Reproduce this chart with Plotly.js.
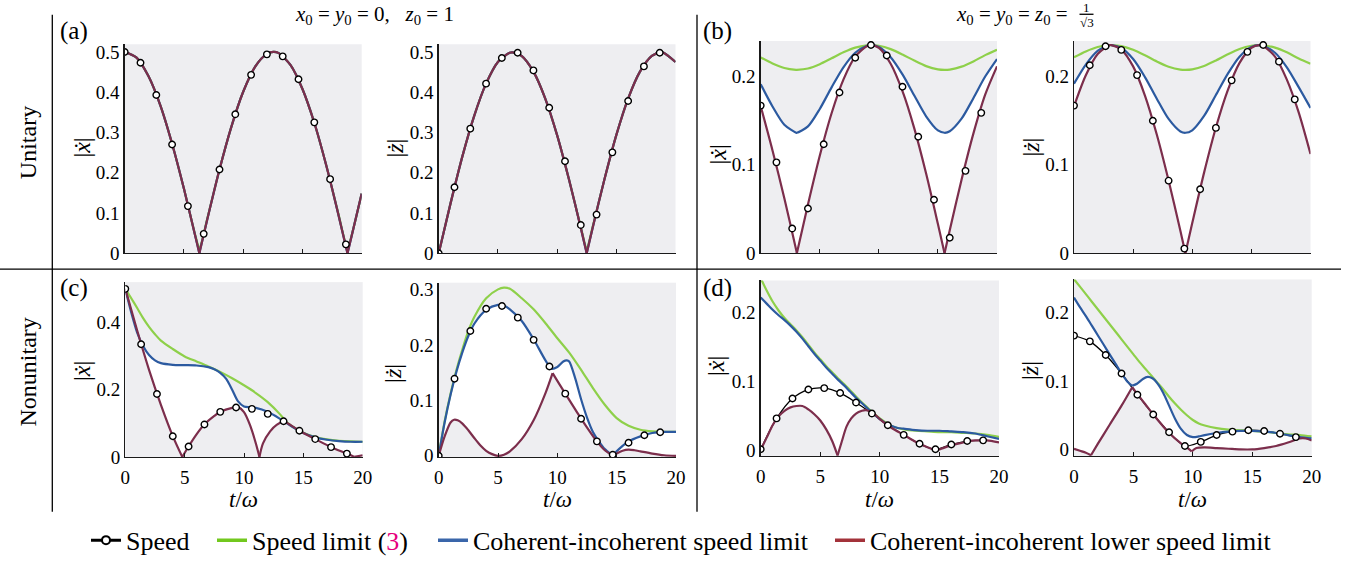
<!DOCTYPE html>
<html><head><meta charset="utf-8">
<script src="https://cdn.plot.ly/plotly-3.0.1.min.js"></script>
<style>html,body{margin:0;padding:0;background:#fff}#chart{width:1350px;height:564px}</style>
</head><body><div id="chart"></div>
<script>
// ---------------- DATA ----------------
const tMarks = [0,1.333,2.667,4,5.333,6.667,8,9.333,10.667,12,13.333,14.667,16,17.333,18.667];

// (a) unitary, x0=y0=0, z0=1 : |x'|
const aL_t     = [0,1,2,3,4,5,6,6.3,7,8,9,10,11,12,12.55,13,14,15,16,17,18,18.8,19,20];
const aL_lim   = [0.5,0.486,0.440,0.368,0.272,0.160,0.037,0,0.088,0.208,0.314,0.401,0.463,0.495,0.5,0.497,0.467,0.408,0.324,0.219,0.100,0,0.024,0.148];
const aL_green = [0.5,0.486,0.440,0.368,0.272,0.160,0.040,0.014,0.090,0.208,0.314,0.401,0.463,0.495,0.5,0.497,0.467,0.408,0.324,0.219,0.102,0.014,0.028,0.148];
const aL_cusps = [6.3,18.8];
const aL_speed = [0.500,0.473,0.393,0.270,0.117,0.048,0.208,0.345,0.443,0.494,0.489,0.432,0.325,0.184,0.022];
// (a) |z'|
const aR_t     = [0,1,2,3,4,5,6,6.25,7,8,9,10,11,12,12.5,13,14,15,16,17,18,18.75,19,20];
const aR_lim   = [0,0.124,0.241,0.342,0.422,0.476,0.499,0.5,0.491,0.452,0.385,0.294,0.184,0.063,0,0.063,0.184,0.294,0.385,0.452,0.491,0.5,0.499,0.476];
const aR_green = [0,0.124,0.241,0.342,0.422,0.476,0.499,0.5,0.491,0.452,0.385,0.294,0.184,0.066,0.014,0.066,0.184,0.294,0.385,0.452,0.491,0.5,0.499,0.476];
const aR_cusps = [12.5];
const aR_speed = [0,0.164,0.310,0.422,0.486,0.499,0.455,0.362,0.229,0.070,0.096,0.251,0.379,0.465,0.499];

// (b) unitary, x0=y0=z0=1/sqrt3 : |x'|
const bL_t     = [0,1,2,3,3.06,4,5,6,7,8,9,9.31,10,11,12,13,14,15,15.56,16,17,18,19,20];
const bL_red   = [0.166,0.116,0.062,0.004,0,0.055,0.110,0.158,0.196,0.222,0.234,0.235,0.232,0.214,0.183,0.141,0.090,0.033,0,0.026,0.083,0.135,0.179,0.211];
const bL_blue  = [0.1908,0.1657,0.1451,0.1361,0.136,0.1432,0.1629,0.1873,0.2099,0.2264,0.2343,0.235,0.2330,0.2213,0.2019,0.1781,0.1546,0.1386,0.136,0.1377,0.1519,0.1750,0.1995,0.2193];
const bL_green = [0.2211,0.2142,0.2091,0.2070,0.207,0.2086,0.2134,0.2201,0.2268,0.2321,0.2348,0.235,0.2343,0.2305,0.2244,0.2175,0.2113,0.2076,0.207,0.2074,0.2107,0.2166,0.2237,0.2298];
const bL_cusps = [3.06,15.56];
const bL_speed = [0.1667,0.1026,0.0278,0.0504,0.123,0.1815,0.2207,0.2352,0.2233,0.188,0.1315,0.0604,0.0174,0.093,0.1585];
// (b) |z'|
const bR_t     = [0,1,2,3,3.17,4,5,6,7,8,9,9.42,10,11,12,13,14,15,15.67,16,17,18,19,20];
const bR_red   = [0.166,0.201,0.225,0.235,0.235,0.230,0.211,0.178,0.134,0.082,0.025,0,0.034,0.091,0.142,0.184,0.215,0.232,0.235,0.234,0.222,0.196,0.159,0.112];
const bR_blue  = [0.1913,0.2130,0.2284,0.235,0.235,0.2317,0.2193,0.1989,0.1745,0.1516,0.1375,0.136,0.1388,0.1550,0.1786,0.2025,0.2219,0.2330,0.235,0.2343,0.2264,0.2099,0.1875,0.1640];
const bR_green = [0.2212,0.2278,0.2328,0.235,0.235,0.2339,0.2298,0.2235,0.2165,0.2106,0.2073,0.207,0.2076,0.2114,0.2176,0.2246,0.2307,0.2343,0.235,0.2348,0.2321,0.2268,0.2199,0.2140];
const bR_cusps = [9.42];
const bR_speed = [0.1667,0.2122,0.2337,0.2296,0.2011,0.1496,0.0819,0.0052,0.0722,0.1415,0.1952,0.2274,0.2352,0.2163,0.1737];

// (c) nonunitary, x0=y0=0, z0=1 : |x'|
const cL_red_t   = [0,1,2,3,4,4.8,5.33,6,6.67,7.5,8,9,9.5,10,10.5,11,11.3,11.6,12.2,12.75,13.33,14,14.67,16,17.33,18.67,19.3,20];
const cL_red     = [0.5,0.376,0.259,0.155,0.062,0,0.031,0.067,0.097,0.122,0.134,0.146,0.148,0.133,0.095,0.04,0,0.04,0.076,0.095,0.105,0.093,0.078,0.053,0.029,0.010,0,0.005];
const cL_red_cusps = [4.8,11.3,19.3];
const cL_blue_t  = [0,0.5,1,1.5,2,2.5,3,4,5,6,7,7.5,8,8.5,9,9.5,10,10.5,11,11.5,12,13,13.5,14,15,16,17,18,19,20];
const cL_blue    = [0.5,0.43,0.37,0.33,0.303,0.287,0.279,0.274,0.273,0.272,0.267,0.261,0.25,0.232,0.2,0.165,0.15,0.148,0.146,0.141,0.134,0.114,0.103,0.091,0.071,0.058,0.051,0.047,0.045,0.045];
const cL_green_t = [0,0.5,1,1.5,2,2.5,3,4,5,6,7,8,9,10,11,12,13,13.5,14,15,16,17,18,19,20];
const cL_green   = [0.5,0.472,0.443,0.413,0.387,0.365,0.346,0.321,0.299,0.284,0.269,0.253,0.234,0.213,0.19,0.163,0.128,0.107,0.092,0.072,0.059,0.052,0.048,0.046,0.045];
const cL_speed   = [0.5,0.335,0.187,0.0615,0.031,0.0966,0.134,0.147,0.143,0.128,0.106,0.078,0.053,0.029,0.0098];
// (c) |z'|
const cR_blue_t  = [0,0.5,1,1.5,2,2.5,3,4,5,5.5,6,7,8,9,9.5,10,10.5,10.8,11,11.5,12,12.5,13,13.5,14,14.5,14.7,15,15.5,16,17,18,19,20];
const cR_blue    = [0,0.06,0.11,0.152,0.187,0.216,0.238,0.263,0.272,0.271,0.264,0.243,0.21,0.172,0.157,0.16,0.17,0.172,0.17,0.14,0.102,0.069,0.043,0.026,0.012,0.003,0,0.008,0.018,0.026,0.035,0.041,0.043,0.043];
const cR_blue_cusps = [14.7];
const cR_green_t = [0,0.5,1,1.5,2,2.5,3,4,5,5.5,6,7,8,9,10,11,12,13,14,15,16,17,18,19,20];
const cR_green   = [0,0.062,0.112,0.155,0.192,0.225,0.25,0.284,0.3,0.303,0.301,0.284,0.264,0.239,0.212,0.186,0.155,0.122,0.092,0.068,0.054,0.047,0.044,0.043,0.043];
const cR_red_t   = [0,0.5,1,1.3,1.6,2,2.5,3,3.5,4,4.5,5,5.5,6,7,8,9,9.6,10,10.67,12,13.33,14,14.7,15,15.5,16,16.5,17,18,19,20];
const cR_red     = [0,0.035,0.06,0.065,0.064,0.058,0.046,0.032,0.019,0.009,0.003,0,0.002,0.008,0.03,0.064,0.113,0.149,0.135,0.112,0.067,0.026,0.01,0,0.004,0.009,0.011,0.01,0.008,0.004,0.001,0];
const cR_red_cusps = [9.6,14.7];
const cR_speed   = [0,0.139,0.225,0.265,0.270,0.249,0.209,0.161,0.112,0.0667,0.026,0.002,0.0236,0.037,0.0425];

// (d) nonunitary, x0=y0=z0=1/sqrt3 : |x'|
const dL_red_t   = [0,0.5,1,1.5,2,2.5,3,3.5,4,4.5,5,5.5,6,6.45,6.8,7.2,7.6,8,8.5,8.8,9.2,9.5,10,10.67,11,12,13,13.33,14,14.67,15,16,17,17.33,18,18.67,19,20];
const dL_red     = [0,0.018,0.036,0.049,0.057,0.062,0.064,0.064,0.059,0.052,0.043,0.03,0.013,-0.008,0.012,0.034,0.046,0.053,0.057,0.058,0.056,0.053,0.045,0.036,0.032,0.022,0.012,0.009,0.004,0.0,0.001,0.007,0.011,0.013,0.014,0.014,0.014,0.011];
const dL_red_cusps = [6.45];
const dL_t       = [0,0.5,1,1.5,2,2.5,3,3.5,4,4.5,5,5.5,6,6.5,7,7.5,8,8.5,9,9.5,10,10.5,11,11.5,12,13,14,15,16,17,18,19,20];
const dL_blue    = [0.222,0.213,0.204,0.196,0.189,0.181,0.172,0.162,0.151,0.140,0.130,0.120,0.111,0.102,0.094,0.085,0.076,0.068,0.060,0.052,0.045,0.039,0.035,0.032,0.031,0.029,0.028,0.028,0.027,0.026,0.024,0.020,0.016];
const dL_green   = [0.25,0.232,0.216,0.203,0.192,0.183,0.174,0.164,0.153,0.142,0.132,0.122,0.113,0.104,0.096,0.087,0.078,0.069,0.061,0.053,0.046,0.040,0.035,0.032,0.030,0.028,0.027,0.026,0.026,0.025,0.024,0.022,0.019];
const dL_speed   = [0.001,0.046,0.075,0.088,0.090,0.083,0.069,0.053,0.036,0.022,0.009,0.001,0.008,0.013,0.014];
// (d) |z'|
const dR_red_t   = [0,0.5,1,1.43,2,3,4,4.9,5.33,6,6.67,8,9,9.33,9.9,10.3,11,12,13,14,15,16,17,18,19,19.5,20];
const dR_red     = [0.001,-0.002,-0.005,-0.0085,0.008,0.036,0.064,0.091,0.081,0.066,0.051,0.024,0.009,0.005,-0.003,0.002,0.003,0.002,0.001,0.0,0.0,0.002,0.005,0.01,0.016,0.016,0.013];
const dR_red_cusps = [1.43,4.9,9.9];
const dR_blue_t  = [0,0.5,1,1.5,2,2.5,3,3.5,4,4.5,4.9,5.3,5.8,6.2,6.6,7,7.5,8,8.5,9,9.5,10,10.5,11,12,13,14,15,16,17,18,19,20];
const dR_blue    = [0.222,0.208,0.195,0.181,0.167,0.153,0.139,0.125,0.111,0.099,0.093,0.096,0.103,0.106,0.104,0.097,0.083,0.064,0.045,0.030,0.021,0.018,0.019,0.021,0.024,0.026,0.027,0.027,0.026,0.024,0.021,0.018,0.016];
const dR_blue_cusps = [4.9];
const dR_green_t = [0,0.5,1,1.5,2,2.5,3,3.5,4,4.5,5,5.5,6,6.5,7,7.5,8,8.5,9,9.5,10,10.5,11,12,13,14,15,16,17,18,19,20];
const dR_green   = [0.249,0.238,0.227,0.216,0.205,0.194,0.183,0.172,0.161,0.150,0.139,0.128,0.118,0.108,0.098,0.088,0.077,0.067,0.058,0.050,0.043,0.038,0.035,0.031,0.029,0.028,0.027,0.026,0.024,0.022,0.021,0.019];
const dR_speed   = [0.1664,0.158,0.138,0.111,0.080,0.051,0.025,0.005,0.011,0.021,0.026,0.028,0.027,0.023,0.018];

const xTicks = [0,5,10,15,20];

// ---------------- STYLE / LAYOUT ----------------
const W = 1350, H = 564;
const FONT = 'Liberation Serif';
const C_GREEN = '#8ed04a', C_BLUE = '#2c5aa0', C_RED = '#7c2e4c';
const L_GREEN = '#72c81e', L_BLUE = '#3a66aa', L_RED = '#a3323a';
const BG = '#eeeef1';
const px = v => v / W, py = v => 1 - v / H;

function split(t, y, cusps) {
  const X = [], Y = [];
  for (let i = 0; i < t.length; i++) {
    X.push(t[i]); Y.push(y[i]);
    if (cusps && cusps.includes(t[i]) && i > 0 && i < t.length - 1) {
      X.push(t[i]); Y.push(null); X.push(t[i]); Y.push(y[i]);
    }
  }
  return {x: X, y: Y};
}

const panels = [
  {box:[124.7,361.7,45,257.3], yr:[0,0.519], yt:[0,0.1,0.2,0.3,0.4,0.5], xl:false,
   red:[aL_t,aL_lim,aL_cusps], blue:[aL_t,aL_lim,aL_cusps], green:[aL_t,aL_green,[]], sp:aL_speed, sl:false,
   ylab:'|<i>ẋ</i>|', ylx:82, yly:150},
  {box:[438.7,675.5,45,257.3], yr:[0,0.52], yt:[0,0.1,0.2,0.3,0.4,0.5], xl:false,
   red:[aR_t,aR_lim,aR_cusps], blue:[aR_t,aR_lim,aR_cusps], green:[aR_t,aR_green,[]], sp:aR_speed, sl:false,
   ylab:'|<i>ż</i>|', ylx:395, yly:150},
  {box:[760.7,997,41.7,257.3], yr:[0,0.2396], yt:[0,0.1,0.2], xl:false,
   red:[bL_t,bL_red,bL_cusps], blue:[bL_t,bL_blue,[]], green:[bL_t,bL_green,[]], sp:bL_speed, sl:false,
   ylab:'|<i>ẋ</i>|', ylx:718, yly:157},
  {box:[1074,1310.5,41.7,257.3], yr:[0,0.2396], yt:[0,0.1,0.2], xl:false,
   red:[bR_t,bR_red,bR_cusps], blue:[bR_t,bR_blue,[]], green:[bR_t,bR_green,[]], sp:bR_speed, sl:false,
   ylab:'|<i>ż</i>|', ylx:1031, yly:150},
  {box:[125.3,362.7,286.7,464.3], yr:[0,0.52], yt:[0,0.2,0.4], xl:true,
   red:[cL_red_t,cL_red,cL_red_cusps], blue:[cL_blue_t,cL_blue,[]], green:[cL_green_t,cL_green,[]], sp:cL_speed, sl:false,
   ylab:'|<i>ẋ</i>|', ylx:82, yly:377},
  {box:[438.7,676,287.3,464.3], yr:[-0.002,0.312], yt:[0,0.1,0.2,0.3], xl:true,
   red:[cR_red_t,cR_red,cR_red_cusps], blue:[cR_blue_t,cR_blue,cR_blue_cusps], green:[cR_green_t,cR_green,[]], sp:cR_speed, sl:false,
   ylab:'|<i>ż</i>|', ylx:393, yly:380},
  {box:[760.7,999,285,463.3], yr:[-0.0086,0.2467], yt:[0,0.1,0.2], xl:true,
   red:[dL_red_t,dL_red,dL_red_cusps], blue:[dL_t,dL_blue,[]], green:[dL_t,dL_green,[]], sp:dL_speed, sl:true,
   ylab:'|<i>ẋ</i>|', ylx:716, yly:372},
  {box:[1074,1311.7,284,463.3], yr:[-0.0095,0.2485], yt:[0,0.1,0.2], xl:true,
   red:[dR_red_t,dR_red,dR_red_cusps], blue:[dR_blue_t,dR_blue,dR_blue_cusps], green:[dR_green_t,dR_green,[]], sp:dR_speed, sl:true,
   ylab:'|<i>ż</i>|', ylx:1030, yly:377},
];

const traces = [];
const layout = {
  width: W, height: H, autosize: false,
  margin: {l:0, r:0, t:0, b:0, pad:0},
  paper_bgcolor: '#ffffff', plot_bgcolor: BG,
  font: {family: FONT, color: '#000', size: 17},
  showlegend: true,
  annotations: [], shapes: []
};

panels.forEach((p, i) => {
  const n = i + 1, xa = 'x' + (n === 1 ? '' : n), ya = 'y' + (n === 1 ? '' : n);
  const sm = {shape:'spline', smoothing:0.8};
  traces.push({x:p.red[0], y:p.red[1], xaxis:xa, yaxis:ya, mode:'lines', line:{width:0, color:'rgba(0,0,0,0)'}, showlegend:false, hoverinfo:'skip'});
  traces.push({x:p.blue[0], y:p.blue[1], xaxis:xa, yaxis:ya, mode:'lines', fill:'tonexty', fillcolor:'#ffffff', line:{width:0, color:'rgba(0,0,0,0)'}, showlegend:false, hoverinfo:'skip'});
  if (p.sl) traces.push({x:tMarks, y:p.sp, xaxis:xa, yaxis:ya, mode:'lines', line:Object.assign({color:'#000', width:1.3}, sm), showlegend:false});
  const g = split(p.green[0], p.green[1], p.green[2]);
  traces.push({x:g.x, y:g.y, xaxis:xa, yaxis:ya, mode:'lines', line:Object.assign({color:C_GREEN, width:2.2}, sm), showlegend:false});
  const b = split(p.blue[0], p.blue[1], p.blue[2]);
  traces.push({x:b.x, y:b.y, xaxis:xa, yaxis:ya, mode:'lines', line:Object.assign({color:C_BLUE, width:2.2}, sm), showlegend:false});
  const r = split(p.red[0], p.red[1], p.red[2]);
  traces.push({x:r.x, y:r.y, xaxis:xa, yaxis:ya, mode:'lines', line:Object.assign({color:C_RED, width:2.2}, sm), showlegend:false});
  traces.push({x:tMarks, y:p.sp, xaxis:xa, yaxis:ya, mode:'markers', marker:{symbol:'circle', size:6.5, color:'#ffffff', line:{color:'#000', width:1.4}}, showlegend:false});

  const xk = 'xaxis' + (n === 1 ? '' : n), yk = 'yaxis' + (n === 1 ? '' : n);
  layout[xk] = {domain:[px(p.box[0]), px(p.box[1])], range:[0,20], anchor:ya,
    showline:true, linecolor:'#1a1a1a', linewidth:1.3, ticks:'inside', ticklen:4, tickwidth:1, tickcolor:'#1a1a1a',
    tickvals:xTicks, ticktext:xTicks.map(String), showticklabels:p.xl, showgrid:false, zeroline:false,
    ticklabelstandoff:3,
    tickfont:{family:FONT, size:19, color:'#000'}, fixedrange:true};
  layout[yk] = {domain:[py(p.box[3]), py(p.box[2])], range:p.yr, anchor:xa,
    showline:true, linecolor:'#1a1a1a', linewidth:1.3, ticks:'', tickvals:p.yt, ticktext:p.yt.map(String),
    showgrid:false, zeroline:false, tickfont:{family:FONT, size:19, color:'#000'}, fixedrange:true};
  layout.annotations.push({xref:'paper', yref:'paper', x:px(p.ylx), y:py(p.yly), text:p.ylab, showarrow:false,
    textangle:-90, xanchor:'center', yanchor:'middle', font:{family:FONT, size:24, color:'#000'}});
  if (p.xl) layout.annotations.push({xref:'paper', yref:'paper', x:px((p.box[0]+p.box[1])/2), y:py(508), text:'<i>t</i>/<i>ω</i>',
    showarrow:false, xanchor:'center', yanchor:'middle', font:{family:FONT, size:23, color:'#000'}});
});

// legend entries
traces.push({x:[null], y:[null], mode:'lines+markers', name:'Speed', legend:'legend',
  line:{color:'#000', width:3}, marker:{symbol:'circle', size:8, color:'#fff', line:{color:'#000', width:2}}});
traces.push({x:[null], y:[null], mode:'lines', name:'Speed limit (<span style="color:#e6007e">3</span>)', legend:'legend2',
  line:{color:L_GREEN, width:3.5}});
traces.push({x:[null], y:[null], mode:'lines', name:'Coherent-incoherent speed limit', legend:'legend3',
  line:{color:L_BLUE, width:3.5}});
traces.push({x:[null], y:[null], mode:'lines', name:'Coherent-incoherent lower speed limit', legend:'legend4',
  line:{color:L_RED, width:3.5}});
const legBase = {y:py(549), yanchor:'middle', xanchor:'left', orientation:'h', bgcolor:'rgba(0,0,0,0)',
  borderwidth:0, font:{family:FONT, size:26, color:'#000'}};
layout.legend  = Object.assign({x:px(86)}, legBase);
layout.legend2 = Object.assign({x:px(212)}, legBase);
layout.legend3 = Object.assign({x:px(433)}, legBase);
layout.legend4 = Object.assign({x:px(830)}, legBase);

// text labels
const ann = (x, y, text, size, extra) => layout.annotations.push(Object.assign({xref:'paper', yref:'paper',
  x:px(x), y:py(y), text:text, showarrow:false, xanchor:'center', yanchor:'middle', font:{family:FONT, size:size, color:'#000'}}, extra||{}));
ann(27.5, 145, 'Unitary', 24, {textangle:-90});
ann(27.5, 378, 'Nonunitary', 24, {textangle:-90});
ann(74, 31, '(a)', 25); ann(717.5, 31, '(b)', 25); ann(74, 293, '(c)', 25); ann(717.5, 293, '(d)', 25);
ann(374, 15, '<i>x</i><sub>0</sub> = <i>y</i><sub>0</sub> = 0,\u2002 <i>z</i><sub>0</sub> = 1', 21);
ann(1070, 15, '<i>x</i><sub>0</sub> = <i>y</i><sub>0</sub> = <i>z</i><sub>0</sub> =', 21, {xanchor:'right'});
ann(1086.5, 7.5, '1', 13); ann(1086.5, 22.5, '√3', 13);

// separators
const ln = (x0, y0, x1, y1) => layout.shapes.push({type:'line', xref:'paper', yref:'paper',
  x0:px(x0), y0:py(y0), x1:px(x1), y1:py(y1), line:{color:'#000', width:1.3}});
ln(52.3, 15, 52.3, 520); ln(697, 15, 697, 520); ln(0, 273.5, 1341, 273.5);
ln(1079.5, 14.5, 1093.5, 14.5);

Plotly.newPlot('chart', traces, layout, {staticPlot:true, displayModeBar:false});
</script></body></html>
